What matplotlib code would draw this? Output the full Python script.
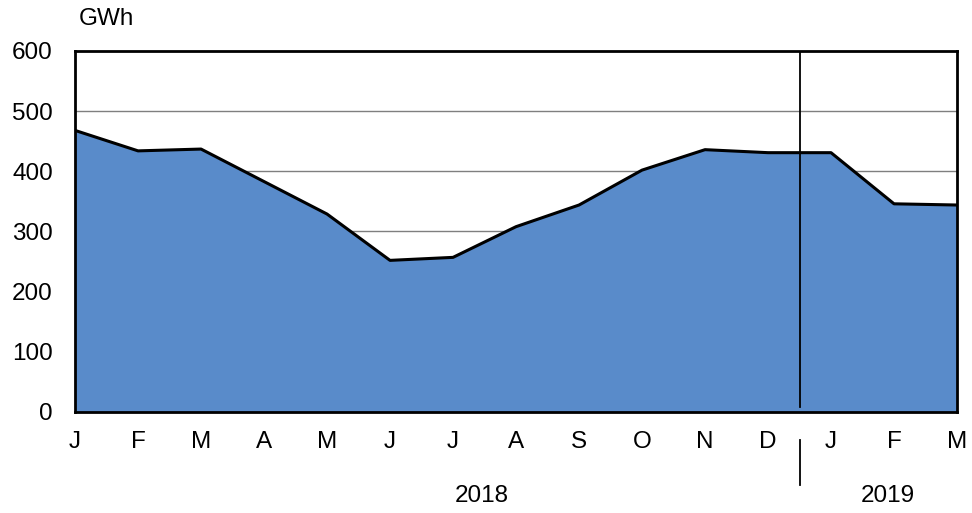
import matplotlib.pyplot as plt
import numpy as np

plt.rcParams['font.family'] = ['Liberation Sans', 'DejaVu Sans']

months = ['J', 'F', 'M', 'A', 'M', 'J', 'J', 'A', 'S', 'O', 'N', 'D', 'J', 'F', 'M']
gwh = [468, 434, 437, 383, 329, 252, 257, 308, 344, 402, 436, 431, 431, 346, 344]
years = ['2018', '2019']
year_pos = [6.46, 12.9]
year_split = 11.5

x = np.arange(len(months))
fs = 17.5

fig = plt.figure(figsize=(9.72, 5.13), dpi=100)
ax = fig.add_axes([0.0772, 0.1969, 0.9074, 0.7037])

for v in range(100, 600, 100):
    ax.axhline(v, color='#7f7f7f', lw=1.0, zorder=0)

ax.fill_between(x, gwh, 0, color='#598BCA', lw=0, zorder=1)
ax.plot(x, gwh, color='black', lw=2.2, zorder=2, solid_joinstyle='round')

# separator between years
ax.plot([year_split, year_split], [8, 600], color='black', lw=1.3, zorder=3)

ax.set_xlim(0, len(months) - 1)
ax.set_ylim(0, 600)
ax.set_yticks(range(0, 700, 100))
ax.set_xticks(x)
ax.set_xticklabels(months)
ax.tick_params(length=0, labelsize=fs, colors='black')
ax.tick_params(axis='x', pad=14)
ax.tick_params(axis='y', pad=16)
for s in ax.spines.values():
    s.set_linewidth(2)
    s.set_color('black')

for lab, pos in zip(years, year_pos):
    ax.text(pos, -0.232, lab, transform=ax.get_xaxis_transform(),
            ha='center', va='center', fontsize=fs)
ax.plot([year_split, year_split], [-0.078, -0.202], color='black', lw=1.3,
        transform=ax.get_xaxis_transform(), clip_on=False)

fig.text(0.081, 0.962, 'GWh', ha='left', va='center', fontsize=fs)

fig.savefig('out.png', dpi=100)
